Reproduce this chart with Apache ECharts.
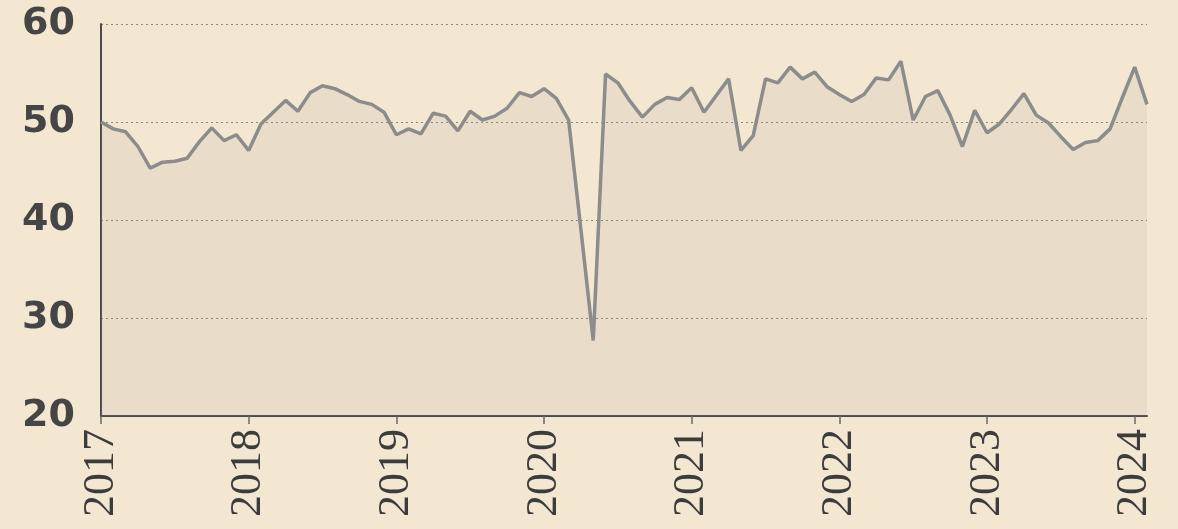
<!DOCTYPE html>
<html>
<head>
<meta charset="utf-8">
<script src="https://cdn.jsdelivr.net/npm/echarts@6/dist/echarts.min.js"></script>
<style>
  html, body { margin: 0; padding: 0; background: #f4e7d1; }
  #chart { width: 1178px; height: 529px; }
</style>
</head>
<body>
<div id="chart"></div>
<script>
// Monthly series, Jan 2017 – Feb 2024
const years = ['2017', '2018', '2019', '2020', '2021', '2022', '2023', '2024'];
const monthsPerYear = ['01','02','03','04','05','06','07','08','09','10','11','12'];
const lastMonth = '2024-02';

const values = [
  // 2017
  50.0, 49.3, 49.0, 47.5, 45.3, 45.9, 46.0, 46.3, 48.0, 49.4, 48.1, 48.7,
  // 2018
  47.1, 49.8, 51.0, 52.2, 51.1, 53.0, 53.7, 53.4, 52.8, 52.1, 51.8, 51.0,
  // 2019
  48.7, 49.3, 48.8, 50.9, 50.6, 49.1, 51.1, 50.2, 50.6, 51.4, 53.0, 52.6,
  // 2020
  53.4, 52.4, 50.2, 39.0, 27.7, 54.9, 54.0, 52.1, 50.5, 51.8, 52.5, 52.3,
  // 2021
  53.5, 51.0, 52.7, 54.4, 47.1, 48.6, 54.4, 54.0, 55.6, 54.4, 55.1, 53.6,
  // 2022
  52.8, 52.1, 52.8, 54.5, 54.3, 56.2, 50.2, 52.6, 53.2, 50.7, 47.5, 51.2,
  // 2023
  48.9, 49.8, 51.3, 52.9, 50.7, 49.9, 48.5, 47.2, 47.9, 48.1, 49.3, 52.5,
  // 2024
  55.6, 51.8
];

const yTicks = [20, 30, 40, 50, 60];

const categories = [];
for (const y of years) {
  for (const m of monthsPerYear) {
    const c = y + '-' + m;
    categories.push(c);
    if (c === lastMonth) break;
  }
}

const chart = echarts.init(document.getElementById('chart'), null, { renderer: 'canvas' });
chart.setOption({
  backgroundColor: '#f4e7d1',
  animation: false,
  grid: { left: 101, right: 31, top: 24, bottom: 113, containLabel: false },
  xAxis: {
    type: 'category',
    data: categories,
    boundaryGap: false,
    axisLine: { show: true, lineStyle: { color: '#4b4b4b', width: 2 } },
    axisTick: {
      show: true,
      length: 8,
      interval: (idx, val) => val.endsWith('-01'),
      lineStyle: { color: '#6a6a6a', width: 1.5 }
    },
    axisLabel: {
      interval: (idx, val) => val.endsWith('-01'),
      formatter: (val) => val.slice(0, 4),
      rotate: 90,
      margin: 13,
      fontFamily: 'Liberation Serif',
      fontSize: 44,
      color: '#3c3c3c'
    },
    splitLine: { show: false }
  },
  yAxis: {
    type: 'value',
    min: yTicks[0],
    max: yTicks[yTicks.length - 1],
    interval: 10,
    axisLine: { show: true, lineStyle: { color: '#4b4b4b', width: 2 } },
    axisTick: { show: false },
    axisLabel: {
      margin: 26,
      fontFamily: 'DejaVu Sans',
      fontWeight: 'bold',
      fontSize: 38,
      color: '#454545'
    },
    splitLine: {
      show: true,
      lineStyle: { color: '#8e8777', width: 1.2, type: [2, 3] }
    }
  },
  series: [{
    type: 'line',
    data: values,
    showSymbol: false,
    smooth: false,
    lineStyle: { color: '#8c8c8a', width: 3.5 },
    areaStyle: { color: 'rgba(150,145,135,0.17)', origin: 'start' },
    z: 1
  }]
});
</script>
</body>
</html>
